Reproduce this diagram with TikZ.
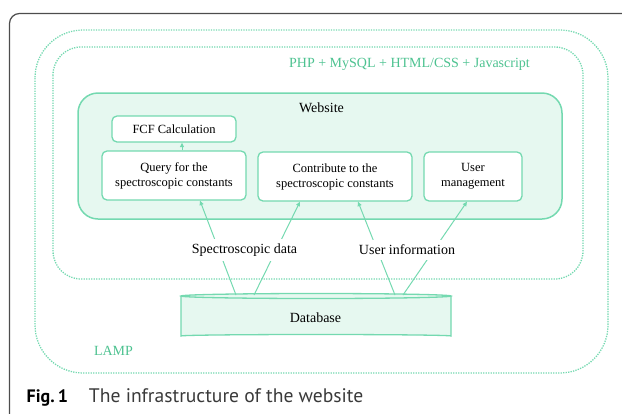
\documentclass[tikz,border=0pt]{standalone}
\usepackage{fontspec}
\setmainfont{Liberation Serif}
\newfontfamily\capfont{PT Sans}
\usetikzlibrary{arrows.meta}
\definecolor{mint}{HTML}{74D9B0}
\definecolor{mintfill}{HTML}{E6F8F0}
\definecolor{minttext}{HTML}{4DC290}
\definecolor{framec}{HTML}{4D4D4D}
\definecolor{captext}{HTML}{3A3A3A}
\tikzset{
  dotbox/.style={draw=mint, line width=1.3pt, dash pattern=on 1.3pt off 1.2pt},
  inbox/.style={draw=mint, line width=1.3pt, fill=white, rounded corners=5pt, inner sep=0pt, align=center, font=\fontsize{12.5}{15}\selectfont},
  conn/.style={draw=mint, line width=1pt, -{Triangle[length=4.5pt,width=4pt]}},
  lbl/.style={fill=white, inner xsep=2pt, inner ysep=5pt, font=\fontsize{14}{16}\selectfont},
}
\begin{document}
\begin{tikzpicture}[x=1pt,y=-1pt]
\useasboundingbox (0,0) rectangle (622,413);
% frame
\draw[framec, line width=1.2pt, rounded corners=10pt] (9.5,430) -- (9.5,13.5) -- (640,13.5);
% dotted containers
\draw[dotbox, rounded corners=48pt] (35,30) rectangle (608,373);
\draw[dotbox, rounded corners=28pt] (53,47) rectangle (583,279);
\node[text=minttext, font=\fontsize{14}{16}\selectfont] (php) at (409.5,64) {PHP + MySQL + HTML/CSS + Javascript};
\node[text=minttext, font=\fontsize{14}{16}\selectfont] (lamp) at (113.5,351) {LAMP};
% website
\draw[draw=mint, fill=mintfill, line width=1.5pt, rounded corners=20pt] (78,93) rectangle (562,219);
\node[font=\fontsize{14}{16}\selectfont] (web) at (321.5,107.5) {Website};
\node[inbox, minimum width=124pt, minimum height=26pt] (fcf) at (174,129) {FCF Calculation};
\node[inbox, minimum width=144pt, minimum height=49pt] (q) at (174,175.5) {Query for the\\spectroscopic constants};
\node[inbox, minimum width=154pt, minimum height=49pt] (c) at (335,176.5) {Contribute to the\\spectroscopic constants};
\node[inbox, minimum width=98pt, minimum height=49pt] (u) at (473,176.5) {User\\management};
\draw[conn] ([xshift=8pt]q.north) -- ([xshift=8pt]fcf.south);
% database
\fill[mintfill] (181,296) -- (181,336) arc[start angle=180, end angle=360, x radius=135, y radius=1.5] -- (451,296) -- cycle;
\draw[mint, line width=1.3pt] (181,296) -- (181,336) arc[start angle=180, end angle=360, x radius=135, y radius=1.5] -- (451,296);
\draw[mint, line width=1.3pt, fill=mintfill] (316,296) ellipse[x radius=135, y radius=2.5];
\coordinate (dbtop) at (316,295);
\node[font=\fontsize{14}{16}\selectfont] (db) at (315.5,318) {Database};
% connectors
\draw[conn] ([xshift=-80pt]dbtop) -- ([xshift=26pt]q.south);
\draw[conn] ([xshift=-62pt]dbtop) -- ([xshift=-35pt]c.south);
\draw[conn] ([xshift=79pt]dbtop) -- ([xshift=23pt]c.south);
\draw[conn] ([xshift=87pt]dbtop) -- ([xshift=-6pt]u.south);
\node[lbl] (sd) at (244.5,250) {Spectroscopic data};
\node[lbl] (ui) at (407,250) {User information};
% caption
\node[anchor=base west, inner sep=0pt, font=\capfont\fontsize{19.6}{22}\selectfont] (cap) at (26.5,402) {{\fontsize{18}{22}\selectfont\textbf{Fig.\,1}}\hspace{21pt}\textcolor{captext}{The infrastructure of the website}};
\end{tikzpicture}
\end{document}
